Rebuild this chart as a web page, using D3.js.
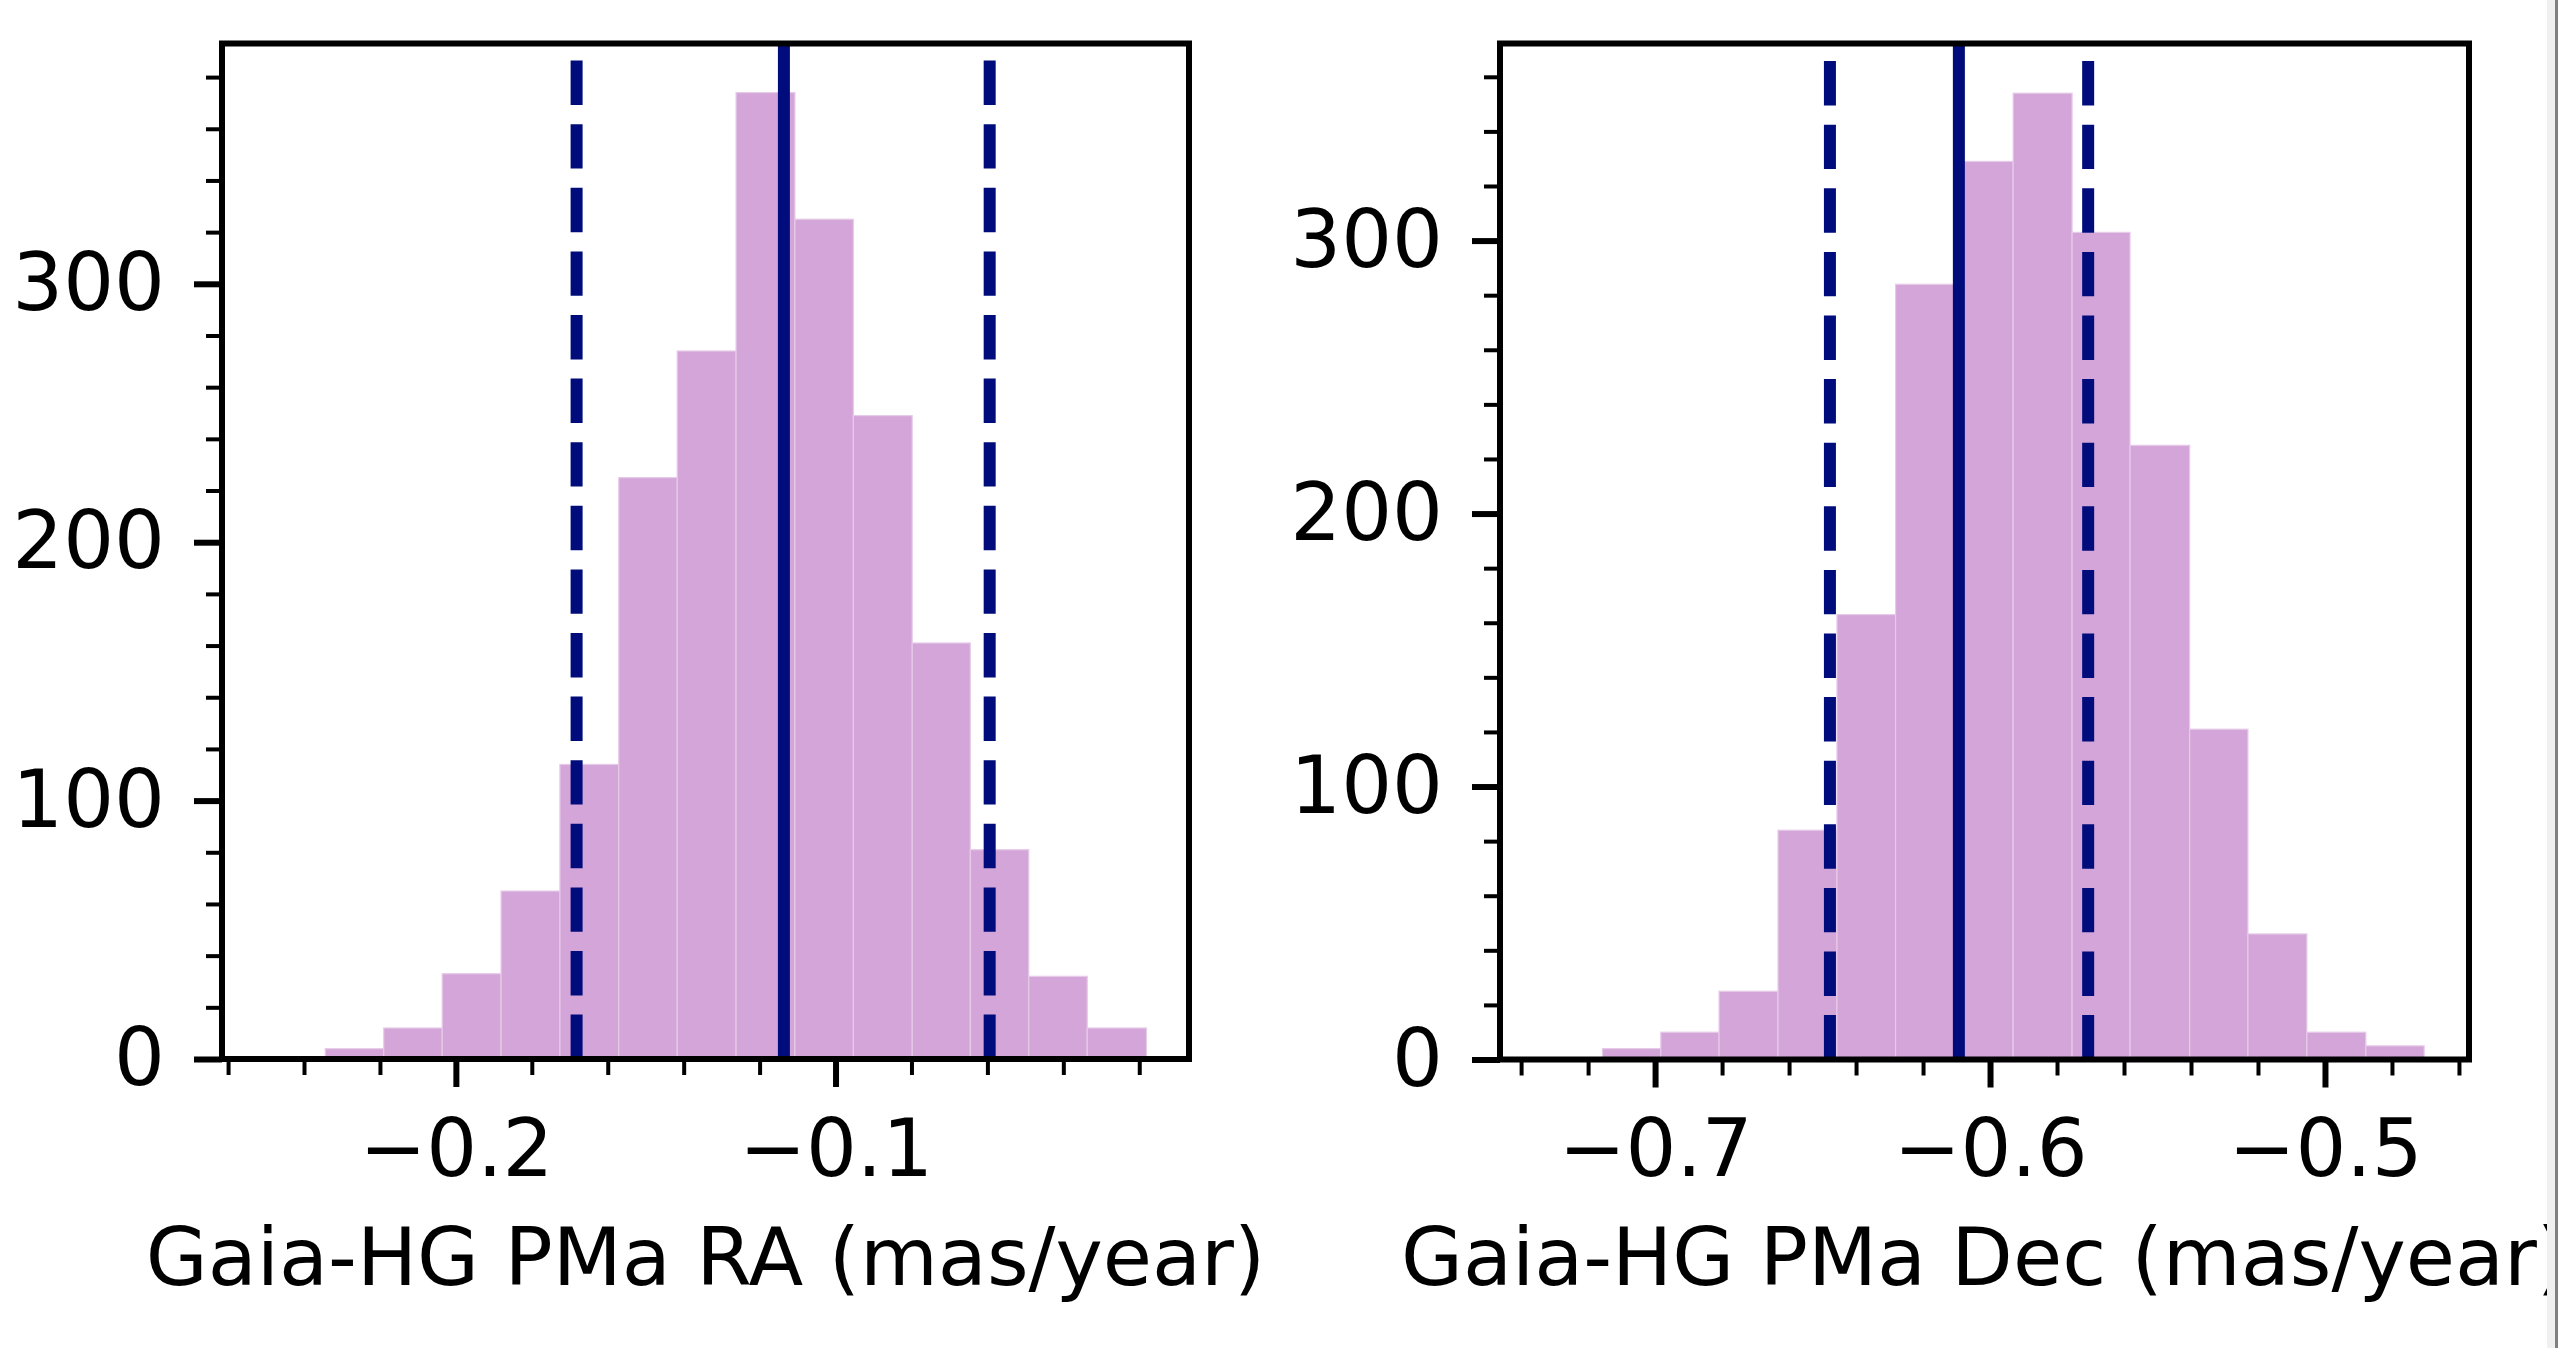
<!DOCTYPE html>
<html>
<head>
<meta charset="utf-8">
<script src="https://cdn.jsdelivr.net/npm/d3@7"></script>
<style>
  body { margin: 0; background: #fff; }
  svg text { font-family: "DejaVu Sans", sans-serif; }
</style>
</head>
<body>
<svg id="chart" width="2558" height="1348"></svg>
<script>

// histogram of PMa RA samples
var ra_edges  = [-0.2344, -0.2190, -0.2036, -0.1881, -0.1726, -0.1571, -0.1417, -0.1262,
                 -0.1107, -0.0953, -0.0798, -0.0645, -0.0491, -0.0337, -0.0181];
var ra_counts = [4, 12, 33, 65, 114, 225, 274, 374, 325, 249, 161, 81, 32, 12];
var ra_lines  = [-0.1682, -0.1136, -0.0594];   // 16th, median, 84th
var ra_xlim   = [-0.2616, -0.0069];
var ra_ylim   = [0, 393];
var ra_xmajor = [-0.2, -0.1];
var ra_xminor = [-0.26, -0.24, -0.22, -0.18, -0.16, -0.14, -0.12, -0.08, -0.06, -0.04, -0.02];

// histogram of PMa Dec samples
var dec_edges  = [-0.7157, -0.6983, -0.6809, -0.6633, -0.6457, -0.6282, -0.6107, -0.5931,
                  -0.5755, -0.5582, -0.5404, -0.5230, -0.5054, -0.4878, -0.4704];
var dec_counts = [4, 10, 25, 84, 163, 284, 329, 354, 303, 225, 121, 46, 10, 5];
var dec_lines  = [-0.6478, -0.6093, -0.5707];
var dec_xlim   = [-0.7463, -0.4570];
var dec_ylim   = [0, 372.2];
var dec_xmajor = [-0.7, -0.6, -0.5];
var dec_xminor = [-0.74, -0.72, -0.68, -0.66, -0.64, -0.62, -0.58, -0.56, -0.54, -0.52, -0.48, -0.46];

var y_major    = [0, 100, 200, 300];
var ra_yminor  = [20, 40, 60, 80, 120, 140, 160, 180, 220, 240, 260, 280, 320, 340, 360, 380];
var dec_yminor = [20, 40, 60, 80, 120, 140, 160, 180, 220, 240, 260, 280, 320, 340, 360];

var bar_color  = "#d4a5d8";
var line_color = "#000c7b";
var font_px    = 80;

function style_axis( g, width, size ){
    g.select(".domain").remove();
    g.attr("font-family", null).attr("font-size", null);
    g.selectAll(".tick line").attr("stroke", "#000").attr("stroke-width", width);
    g.selectAll(".tick text").attr("fill", "#000").attr("font-size", size + "px");
}

function add_histogram( svg, box, xlim, ylim, edges, counts, lines, xmajor, xminor, yminor, label ){

    var xs = d3.scaleLinear().domain( xlim ).range([ box.x0, box.x1 ]);
    var ys = d3.scaleLinear().domain( ylim ).range([ box.y1, box.y0 ]);

    var grp = svg.append("g");

    // bars
    grp.selectAll("rect.bar")
        .data( counts )
        .enter().append("rect")
            .attr("class", "bar")
            .attr("x", function(d, i){ return xs(edges[i]); })
            .attr("width", function(d, i){ return xs(edges[i+1]) - xs(edges[i]); })
            .attr("y", function(d){ return ys(d); })
            .attr("height", function(d){ return ys(0) - ys(d); })
            .attr("fill", bar_color)
            .attr("stroke", "#e6cbe8")
            .attr("stroke-width", 1.2);

    // percentile lines, dashed ones drawn from the bottom up like axvline
    grp.selectAll("line.pct")
        .data( lines )
        .enter().append("line")
            .attr("class", "pct")
            .attr("x1", function(d){ return xs(d); })
            .attr("x2", function(d){ return xs(d); })
            .attr("y1", ys(ylim[0]))
            .attr("y2", ys(ylim[1]))
            .attr("stroke", line_color)
            .attr("stroke-width", 12)
            .attr("stroke-dasharray", function(d, i){ return i == 1 ? null : "44.4,19.2"; });

    // x ticks
    var gx = grp.append("g").attr("transform", "translate(0," + box.y1 + ")");
    gx.call(d3.axisBottom(xs).tickValues(xmajor).tickSize(28).tickPadding(32).tickFormat(d3.format(".1f")));
    style_axis(gx, 6, font_px);

    var gxm = grp.append("g").attr("transform", "translate(0," + box.y1 + ")");
    gxm.call(d3.axisBottom(xs).tickValues(xminor).tickSize(16).tickFormat(""));
    style_axis(gxm, 4, font_px);

    // y ticks
    var gy = grp.append("g").attr("transform", "translate(" + box.x0 + ",0)");
    gy.call(d3.axisLeft(ys).tickValues(y_major).tickSize(28).tickPadding(29).tickFormat(d3.format("d")));
    style_axis(gy, 6, font_px);

    var gym = grp.append("g").attr("transform", "translate(" + box.x0 + ",0)");
    gym.call(d3.axisLeft(ys).tickValues(yminor).tickSize(16).tickFormat(""));
    style_axis(gym, 4, font_px);

    // spines
    grp.append("rect")
        .attr("x", box.x0)
        .attr("y", box.y0)
        .attr("width", box.x1 - box.x0)
        .attr("height", box.y1 - box.y0)
        .attr("fill", "none")
        .attr("stroke", "#000")
        .attr("stroke-width", 6);

    grp.append("text")
        .attr("x", (box.x0 + box.x1) / 2)
        .attr("y", 1285)
        .attr("text-anchor", "middle")
        .attr("font-size", font_px + "px")
        .attr("fill", "#000")
        .text( label );
}

var svg = d3.select("#chart");

add_histogram( svg, {x0: 222, x1: 1189, y0: 43.5, y1: 1059}, ra_xlim, ra_ylim,
               ra_edges, ra_counts, ra_lines, ra_xmajor, ra_xminor, ra_yminor,
               "Gaia-HG PMa RA (mas/year)" );

add_histogram( svg, {x0: 1500, x1: 2469, y0: 43.5, y1: 1059.5}, dec_xlim, dec_ylim,
               dec_edges, dec_counts, dec_lines, dec_xmajor, dec_xminor, dec_yminor,
               "Gaia-HG PMa Dec (mas/year)" );

// window edge seen at the right of the picture
svg.append("rect").attr("x", 2547).attr("y", 0).attr("width", 8).attr("height", 1348).attr("fill", "#f0f0f0");
svg.append("rect").attr("x", 2555).attr("y", 0).attr("width", 3).attr("height", 1348).attr("fill", "#808080");

</script>
</body>
</html>
